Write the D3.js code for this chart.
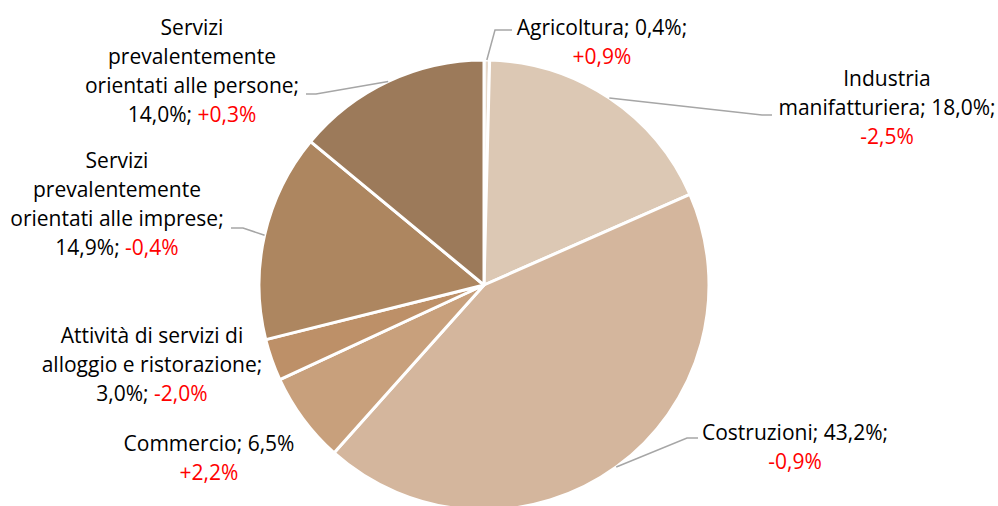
<!DOCTYPE html>
<html><head><meta charset="utf-8">
<script src="https://cdn.jsdelivr.net/npm/d3@7"></script>
<style>body{margin:0;background:#fff}svg{display:block}</style>
</head><body>
<svg id="c" width="998" height="506"></svg>
<script>
const categories = ["Agricoltura","Industria manifatturiera","Costruzioni","Commercio","Attività di servizi di alloggio e ristorazione","Servizi prevalentemente orientati alle imprese","Servizi prevalentemente orientati alle persone"];
const shares = [0.4, 18.0, 43.2, 6.5, 3.0, 14.9, 14.0];
const changes = ["+0,9%","-2,5%","-0,9%","+2,2%","-2,0%","-0,4%","+0,3%"];
const shareLabels = ["0,4%","18,0%","43,2%","6,5%","3,0%","14,9%","14,0%"];
const colors = ["#e6d8ca","#dcc8b4","#d4b69d","#c8a07c","#bd9068","#ad8660","#9c7a5a"];

// label layout: text lines (black part / red part), anchor center, leader elbow & end
const layout = [
  {x:602,y:27,lines:[["Agricoltura; 0,4%;",""],["","+0,9%"]],leader:[[495,30],[512,30]]},
  {x:887,y:78,lines:[["Industria",""],["manifatturiera; 18,0%;",""],["","-2,5%"]],leader:[[762,115],[772,115]]},
  {x:795,y:432,lines:[["Costruzioni; 43,2%;",""],["","-0,9%"]],leader:[[687,438],[698,438]]},
  {x:209,y:443,lines:[["Commercio; 6,5%",""],["","+2,2%"]],leader:null},
  {x:152,y:335,lines:[["Attività di servizi di",""],["alloggio e ristorazione;",""],["3,0%; ","-2,0%"]],leader:null},
  {x:117,y:160,lines:[["Servizi",""],["prevalentemente",""],["orientati alle imprese;",""],["14,9%; ","-0,4%"]],leader:[[243,228],[231,228]]},
  {x:192,y:27,lines:[["Servizi",""],["prevalentemente",""],["orientati alle persone;",""],["14,0%; ","+0,3%"]],leader:[[316,94],[306,94]]}
];

const svg = d3.select("#c");
const cx = 484, cy = 285, R = 225;
const pie = d3.pie().sort(null).value(d=>d)(shares);
const arc = d3.arc().innerRadius(0).outerRadius(R);
const g = svg.append("g").attr("transform",`translate(${cx},${cy})`);
g.selectAll("path").data(pie).enter().append("path")
  .attr("d",arc).attr("fill",(d,i)=>colors[i])
  .attr("stroke","#fff").attr("stroke-width",3).attr("stroke-linejoin","round");

// leaders
pie.forEach((d,i)=>{
  const L = layout[i].leader; if(!L) return;
  const a = (d.startAngle+d.endAngle)/2;
  const p0 = [cx+R*Math.sin(a), cy-R*Math.cos(a)];
  svg.append("polyline").attr("points",[p0,...L].map(p=>p.join(",")).join(" "))
    .attr("fill","none").attr("stroke","#a6a6a6").attr("stroke-width",1.5);
});

// labels
const lh = 29;
layout.forEach((L,i)=>{
  L.lines.forEach((ln,j)=>{
    const t = svg.append("text").attr("x",L.x).attr("y",L.y+j*lh)
      .attr("text-anchor","middle").attr("dominant-baseline","central")
      .attr("font-family","'Open Sans', sans-serif").attr("font-size",21);
    if(ln[0]) t.append("tspan").attr("fill","#000").text(ln[0]);
    if(ln[1]) t.append("tspan").attr("fill","#ff0000").text(ln[1]);
  });
});
</script>
</body></html>
